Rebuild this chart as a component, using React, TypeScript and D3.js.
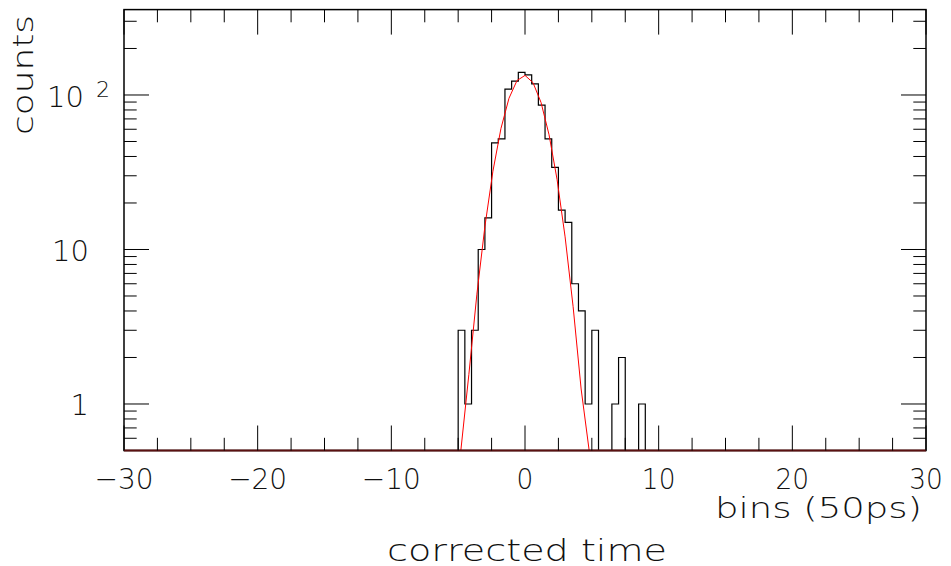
import React from "react";
import * as d3 from "d3";

// ---- data ----
const binLowEdge = -5;
const binWidth = 0.5;
const binCounts = [3, 1, 3, 10, 16, 49, 52, 109, 123, 140, 135, 118, 86, 52, 34, 18, 15, 6, 4, 1, 3, 0, 0, 1, 2, 0, 0, 1];

const xDomain = [-30, 30];
const yDomain = [0.5, 357];

const xMajorTicks = [-30, -20, -10, 0, 10, 20, 30];
const xTickLabels = ["\u221230", "\u221220", "\u221210", "0", "10", "20", "30"];
const xMinorStep = 2.5;

const yMajorTicks = [1, 10, 100];
const yTickLabels = ["1", "10", "10"];
const yTickExponents = ["", "", "2"];

// Gaussian fit parameters
const fitAmplitude = 134;
const fitMean = -0.05;
const fitSigma = 1.39;
const fitNpx = 100;

const xTitle = "bins (50ps)";
const xTitle2 = "corrected time";
const yTitle = "counts";

// ---- layout ----
const W = 951;
const H = 566;
const L = 124;
const R = 926;
const T = 9.6;
const B = 450.5;
const FONT = "'DejaVu Sans', sans-serif";

export default function App() {
  const x = d3.scaleLinear().domain(xDomain).range([L, R]);
  const y = d3.scaleLog().domain(yDomain).range([B, T]);
  const yMin = yDomain[0];
  const yc = (v: number) => y(v > yMin ? v : yMin);

  // full histogram over the axis range
  const nBins = Math.round((xDomain[1] - xDomain[0]) / binWidth);
  const full: number[] = new Array(nBins).fill(0);
  const offset = Math.round((binLowEdge - xDomain[0]) / binWidth);
  binCounts.forEach((c, i) => (full[offset + i] = c));

  let histPath = `M${x(xDomain[0])},${B}`;
  full.forEach((c, i) => {
    const x0 = xDomain[0] + i * binWidth;
    const x1 = x0 + binWidth;
    histPath += `V${yc(c)}H${x(x1)}`;
  });
  histPath += `V${B}`;

  const fitPts: [number, number][] = d3.range(fitNpx + 1).map((i) => {
    const xv = xDomain[0] + (i * (xDomain[1] - xDomain[0])) / fitNpx;
    const v = fitAmplitude * Math.exp(-0.5 * Math.pow((xv - fitMean) / fitSigma, 2));
    return [x(xv), yc(v)];
  });
  const fitPath = d3.line()(fitPts) || "";

  const xTicks = d3.range(xDomain[0], xDomain[1] + 1e-6, xMinorStep);
  const isMajorX = (v: number) => xMajorTicks.some((m) => Math.abs(m - v) < 1e-6);
  const yTicks = y.ticks().filter((v) => v > yMin * 1.001 && v < yDomain[1]);
  const isMajorY = (v: number) => yMajorTicks.some((m) => Math.abs(m - v) < 1e-6);

  const majLen = 25;
  const minLen = 12.7;

  return (
    <svg
      width={W}
      height={H}
      style={{ position: "absolute", left: 0, top: 0, background: "#fff" }}
      fontFamily={FONT}
      fontWeight={200}
    >
      <rect x={0} y={0} width={W} height={H} fill="#fff" />
      {/* histogram */}
      <path d={histPath} fill="none" stroke="#000" strokeWidth={1.2} />
      {/* fit */}
      <path d={fitPath} fill="none" stroke="#ff0000" strokeWidth={1} />
      {/* frame */}
      <rect x={L} y={T} width={R - L} height={B - T} fill="none" stroke="#000" strokeWidth={1.5} />
      <line x1={L} x2={R} y1={B} y2={B} stroke="#5a1010" strokeWidth={1.8} />
      {/* x ticks */}
      {xTicks.map((v, i) => {
        const len = isMajorX(v) ? majLen : minLen;
        return (
          <g key={"xt" + i} stroke="#000" strokeWidth={1}>
            <line x1={x(v)} x2={x(v)} y1={B} y2={B - len} />
            <line x1={x(v)} x2={x(v)} y1={T} y2={T + len} />
          </g>
        );
      })}
      {/* y ticks */}
      {yTicks.map((v, i) => {
        const len = isMajorY(v) ? majLen : minLen;
        return (
          <g key={"yt" + i} stroke="#000" strokeWidth={1}>
            <line x1={L} x2={L + len} y1={y(v)} y2={y(v)} />
            <line x1={R} x2={R - len} y1={y(v)} y2={y(v)} />
          </g>
        );
      })}
      {/* x labels */}
      {xMajorTicks.map((v, i) => (
        <text
          key={"xl" + i}
          x={x(v)}
          y={489}
          fontSize={29}
          textAnchor="middle"
          fill="#111"
          textLength={v < 0 ? 59 : String(xTickLabels[i]).length * 16.8}
          lengthAdjust="spacingAndGlyphs"
        >
          {xTickLabels[i]}
        </text>
      ))}
      {/* y labels */}
      {yMajorTicks.map((v, i) =>
        yTickExponents[i] ? (
          <g key={"yl" + i}>
            <text x={84} y={y(v) + 11.7} fontSize={29} textAnchor="end" fill="#111">
              {yTickLabels[i]}
            </text>
            <text x={96} y={y(v) + 2} fontSize={22} textAnchor="start" fill="#111">
              {yTickExponents[i]}
            </text>
          </g>
        ) : (
          <text key={"yl" + i} x={89} y={y(v) + 11.5} fontSize={29} textAnchor="end" fill="#111">
            {yTickLabels[i]}
          </text>
        )
      )}
      {/* titles */}
      <text x={922} y={518} fontSize={28} textAnchor="end" fill="#111" textLength={207} lengthAdjust="spacingAndGlyphs">
        {xTitle}
      </text>
      <text x={527} y={561} fontSize={30} textAnchor="middle" fill="#111" textLength={280} lengthAdjust="spacingAndGlyphs">
        {xTitle2}
      </text>
      <text
        transform={`translate(33,75) rotate(-90)`}
        fontSize={29}
        textAnchor="middle"
        fill="#111"
        textLength={120}
        lengthAdjust="spacingAndGlyphs"
      >
        {yTitle}
      </text>
    </svg>
  );
}
